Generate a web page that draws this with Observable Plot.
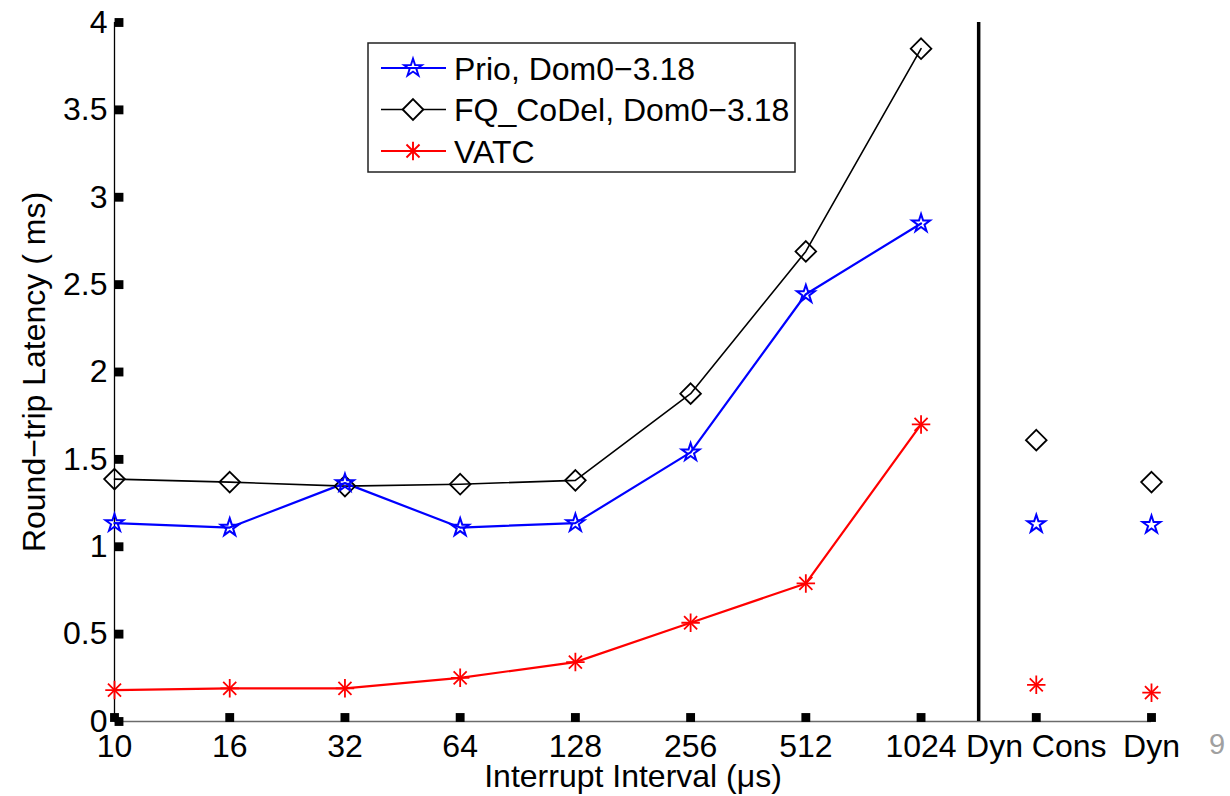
<!DOCTYPE html>
<html>
<head>
<meta charset="utf-8">
<script src="https://cdn.jsdelivr.net/npm/d3@7"></script>
<script src="https://cdn.jsdelivr.net/npm/@observablehq/plot@0.6"></script>
<style>
  body { margin: 0; background: #fff; }
  #wrap { position: relative; width: 1230px; height: 796px; font-family: "Liberation Sans", Arial, sans-serif; }
  #legend { position: absolute; left: 367px; top: 42px; }
  #pagenum { position: absolute; left: 1209px; top: 728px; font-size: 29px; color: #a0a0a0; }
</style>
</head>
<body>
<div id="wrap">
  <div id="chart"></div>
  <div id="legend"></div>
  <div id="pagenum">9</div>
</div>
<script>
// ---- data ----
const categories = ["10", "16", "32", "64", "128", "256", "512", "1024", "Dyn Cons", "Dyn"];
const prio     = [1.135, 1.11, 1.364, 1.11, 1.135, 1.54, 2.445, 2.85, 1.13, 1.125];
const fqcodel  = [1.387, 1.37, 1.347, 1.358, 1.38, 1.876, 2.69, 3.85, 1.61, 1.37];
const vatc     = [0.18, 0.19, 0.19, 0.25, 0.34, 0.565, 0.79, 1.70, 0.21, 0.165];
const seriesNames = ["Prio, Dom0\u22123.18", "FQ_CoDel, Dom0\u22123.18", "VATC"];
const yTicks = [0, 0.5, 1, 1.5, 2, 2.5, 3, 3.5, 4];
const yTickLabels = ["0", "0.5", "1", "1.5", "2", "2.5", "3", "3.5", "4"];
const lineCount = 8; // the connected points (10 .. 1024)
const dividerPos = 7.5; // between 1024 and Dyn Cons

const rows = (vals, name) => vals.map((v, i) => ({i, v, name}));
const P = rows(prio, seriesNames[0]);
const F = rows(fqcodel, seriesNames[1]);
const V = rows(vatc, seriesNames[2]);
const idx = d3.range(categories.length);

const plot = Plot.plot({
  width: 1230,
  height: 796,
  marginLeft: 114,
  marginRight: 79,
  marginTop: 22,
  marginBottom: 75,
  style: {fontFamily: "Liberation Sans, Arial, sans-serif", fontSize: "32px", color: "black", background: "white", overflow: "visible"},
  x: {type: "linear", domain: [0, categories.length - 1]},
  y: {domain: [0, 4]},
  marks: [
    Plot.axisX(idx, {tickFormat: i => categories[i], tickSize: 0, tickPadding: 13, label: "Interrupt Interval (\u03bcs)", labelAnchor: "center", labelOffset: 65, labelArrow: "none"}),
    Plot.axisY(yTicks, {tickFormat: (d, k) => yTickLabels[k], tickSize: 0, tickPadding: 7, label: "Round\u2212trip Latency ( ms)", labelAnchor: "center", labelOffset: 92, labelArrow: "none"}),
    Plot.ruleY([0], {x1: 0, x2: categories.length - 1, stroke: "#6b6b6b", strokeWidth: 1.5}),
    Plot.ruleX([0], {y1: 0, y2: 4, stroke: "black", strokeWidth: 1.3}),
    Plot.ruleX([dividerPos], {y1: 0, y2: 4, stroke: "black", strokeWidth: 3.5}),
    Plot.dot(yTicks, {x: 0, y: d => d, symbol: "square", r: 5, fill: "black", dx: 4.5}),
    Plot.dot(idx, {x: d => d, y: 0, symbol: "square", r: 5, fill: "black", dy: -4}),
    Plot.line(F.slice(0, lineCount), {x: "i", y: "v", stroke: "black", strokeWidth: 1.6}),
    Plot.line(P.slice(0, lineCount), {x: "i", y: "v", stroke: "#0000ff", strokeWidth: 2.2}),
    Plot.line(V.slice(0, lineCount), {x: "i", y: "v", stroke: "#ff0000", strokeWidth: 2.2}),
    Plot.dot(F, {x: "i", y: "v", symbol: "diamond2", r: 9.3, stroke: "black", fill: "none", strokeWidth: 1.8}),
    Plot.dot(P, {x: "i", y: "v", symbol: "star", r: 5.6, stroke: "#0000ff", fill: "none", strokeWidth: 2}),
    Plot.dot(V, {x: "i", y: "v", symbol: "plus", r: 6, stroke: "#ff0000", fill: "none", strokeWidth: 1.8}),
    Plot.dot(V, {x: "i", y: "v", symbol: "times", r: 6, stroke: "#ff0000", fill: "none", strokeWidth: 1.8})
  ]
});
document.getElementById("chart").appendChild(plot);

// ---- legend ----
const lw = 429, lh = 131;
const svg = d3.select("#legend").append("svg").attr("width", lw).attr("height", lh)
  .style("font-family", "Liberation Sans, Arial, sans-serif").style("font-size", "32px");
svg.append("rect").attr("x", 1).attr("y", 1).attr("width", lw - 2).attr("height", lh - 2)
  .attr("fill", "white").attr("stroke", "#222").attr("stroke-width", 1.5);
const legendItems = [
  {name: seriesNames[0], color: "#0000ff", sym: [[d3.symbolStar, 5.6]], sw: 2.2},
  {name: seriesNames[1], color: "black", sym: [[d3.symbolDiamond2, 9.3]], sw: 1.6},
  {name: seriesNames[2], color: "#ff0000", sym: [[d3.symbolPlus, 6], [d3.symbolTimes, 6]], sw: 2.2}
];
legendItems.forEach((it, k) => {
  const cy = 26 + k * 41.5;
  const g = svg.append("g").attr("transform", `translate(0,${cy})`);
  g.append("line").attr("x1", 14).attr("x2", 79).attr("y1", 0).attr("y2", 0).attr("stroke", it.color).attr("stroke-width", it.sw);
  it.sym.forEach(([t, r]) => {
    g.append("path").attr("transform", "translate(46,0)")
      .attr("d", d3.symbol(t, Math.PI * r * r)())
      .attr("fill", it.color === "black" ? "white" : "none").attr("stroke", it.color).attr("stroke-width", 1.9);
  });
  g.append("text").attr("x", 87).attr("y", 0).attr("dy", "0.36em").text(it.name);
});
</script>
</body>
</html>
